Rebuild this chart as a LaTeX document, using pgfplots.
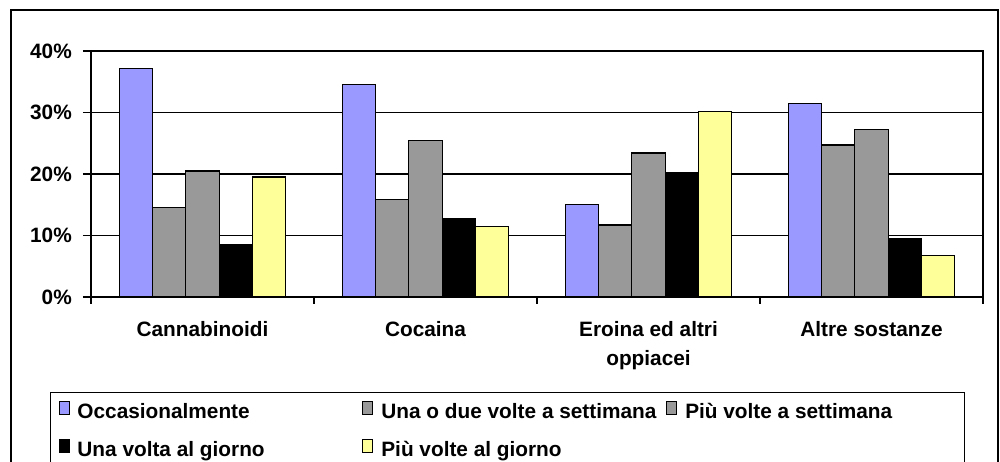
\documentclass[border=0pt]{standalone}
\usepackage{fontspec}
\setmainfont{Liberation Sans}
\usepackage{pgfplots}
\pgfplotsset{compat=1.18}
\definecolor{cblue}{HTML}{9999FF}
\definecolor{cgray}{HTML}{999999}
\definecolor{cyellow}{HTML}{FFFF99}
\newcommand{\cf}{\fontsize{20.8}{29}\selectfont\bfseries}
\begin{document}
\begin{tikzpicture}
\useasboundingbox (0,0) rectangle (1000pt,462pt);
\draw[line width=1.3pt] (11pt,-2pt) -- (11pt,452pt) -- (998pt,452pt) -- (998pt,-2pt);
\begin{axis}[
  at={(91pt,165pt)}, anchor=south west, scale only axis,
  width=892pt, height=246pt,
  xmin=-0.5, xmax=3.5, ymin=0, ymax=40,
  ybar=0pt, bar width=0.149,
  xtick={0,1,2,3},
  xticklabels={Cannabinoidi, Cocaina, {Eroina ed altri\\oppiacei}, Altre sostanze},
  minor xtick={-0.5,0.5,1.5,2.5,3.5},
  major x tick style={draw=none},
  ytick={0,10,20,30,40},
  yticklabels={0\%,10\%,20\%,30\%,40\%},
  tick pos=left, tick align=outside,
  major tick length=8pt, minor tick length=7pt,
  every tick/.style={black, line width=1.2pt},
  ymajorgrids, major grid style={black, line width=1.2pt},
  axis line style={black, line width=1.2pt},
  xticklabel style={font=\cf, align=center, inner sep=0pt, anchor=north, yshift=-16pt},
  yticklabel style={font=\cf, inner sep=0pt, anchor=east, xshift=-11pt},
  legend columns=3,
  legend cell align=left,
  legend style={at={(-0.046,-0.386)}, anchor=north west, draw=black, line width=1.2pt,
    inner sep=8pt, font=\cf, column sep=0pt, row sep=16pt,
    nodes={inner sep=0pt, text height=15pt, text depth=4pt}},
  legend image code/.code={\draw[#1, line width=0.9pt] (0pt,-1pt) rectangle (10pt,12pt);},
]
\addplot[fill=cblue, draw=black, line width=1.2pt] coordinates {(0,37.1) (1,34.5) (2,15.0) (3,31.5)};
\addplot[fill=cgray, draw=black, line width=1.2pt] coordinates {(0,14.6) (1,15.9) (2,11.7) (3,24.7)};
\addplot[fill=cgray, draw=black, line width=1.2pt] coordinates {(0,20.5) (1,25.4) (2,23.4) (3,27.3)};
\addplot[fill=black, draw=black, line width=1.2pt] coordinates {(0,8.6) (1,12.8) (2,20.2) (3,9.5)};
\addplot[fill=cyellow, draw=black, line width=1.2pt] coordinates {(0,19.5) (1,11.4) (2,30.2) (3,6.8)};
\addlegendentry{\makebox[293pt][l]{\hspace{8pt}Occasionalmente}}
\addlegendentry{\makebox[293pt][l]{\hspace{8pt}Una o due volte a settimana}}
\addlegendentry{\makebox[279pt][l]{\hspace{8pt}Più volte a settimana}}
\addlegendentry{\makebox[293pt][l]{\hspace{8pt}Una volta al giorno}}
\addlegendentry{\makebox[293pt][l]{\hspace{8pt}Più volte al giorno}}
\end{axis}
\end{tikzpicture}
\end{document}
